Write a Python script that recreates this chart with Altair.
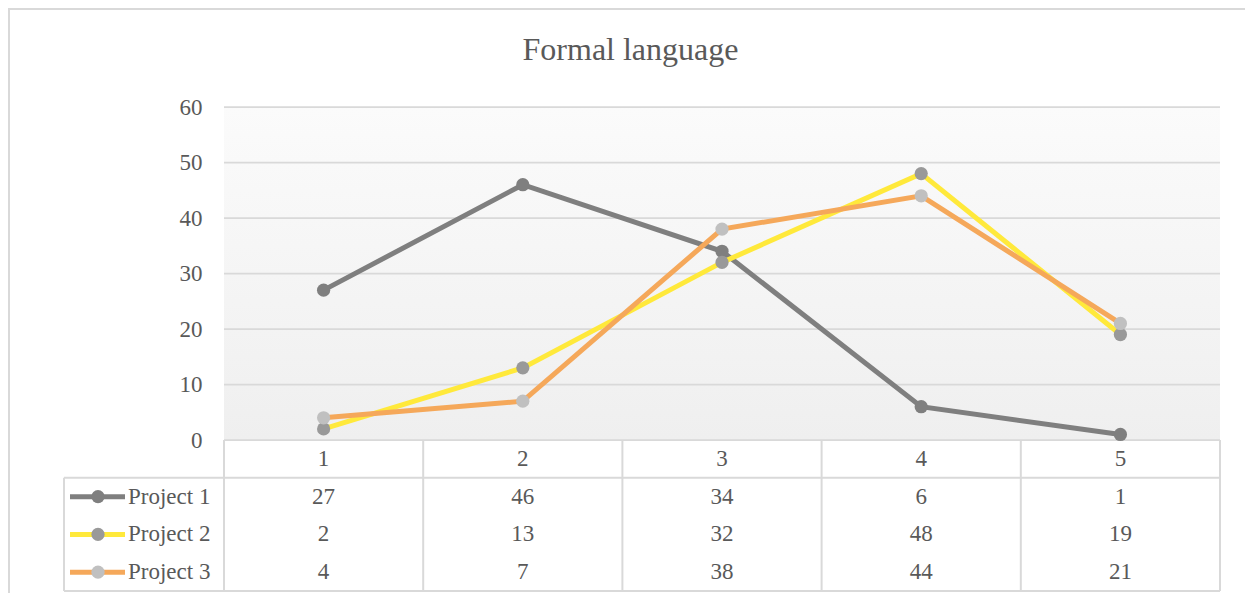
import altair as alt
import pandas as pd

# ---------------- data ----------------
title = "Formal language"
categories = ["1", "2", "3", "4", "5"]
series = ["Project 1", "Project 2", "Project 3"]
project1 = [27, 46, 34, 6, 1]
project2 = [2, 13, 32, 48, 19]
project3 = [4, 7, 38, 44, 21]
y_ticks = [0, 10, 20, 30, 40, 50, 60]

line_colors = ["#7f7f7f", "#ffe93b", "#f5a85a"]
marker_colors = ["#7f7f7f", "#999999", "#c0c0c0"]

# ---------------- layout / style ----------------
W, H = 996, 333
TABLE_H = 151
ROW_BOTTOM = H + TABLE_H
BAND = TABLE_H / 4
FONT = "Liberation Serif"
TEXT = "#595959"
GRID = "#d9d9d9"

values = [project1, project2, project3]
df = pd.DataFrame(
    [{"series": s, "cat": c, "value": v}
     for s, vals in zip(series, values) for c, v in zip(categories, vals)]
)
rows = ["hdr"] + series
table = pd.DataFrame(
    [{"row": "hdr", "cat": c, "label": c} for c in categories]
    + [{"row": s, "cat": c, "label": str(v)}
       for s, vals in zip(series, values) for c, v in zip(categories, vals)]
)
legend_df = pd.DataFrame({"series": series})
ticks_df = pd.DataFrame({"tick": y_ticks})

x_scale = alt.Scale(type="band", domain=categories, paddingInner=0, paddingOuter=0)
y_scale = alt.Scale(domain=[0, 60], nice=False, zero=True)
row_scale = alt.Scale(type="band", domain=rows, range=[H, ROW_BOTTOM],
                      paddingInner=0, paddingOuter=0)
color_scale = alt.Scale(domain=series, range=line_colors)
fill_scale = alt.Scale(domain=series, range=marker_colors)


def X(bp):
    return alt.X("cat:N", scale=x_scale, axis=None, bandPosition=bp)


def ROW(field, bp):
    return alt.Y(f"{field}:N", scale=row_scale, axis=None, bandPosition=bp)


one = alt.Data(values=[{}])

bg = alt.Chart(one).mark_rect(
    fill=alt.LinearGradient(
        gradient="linear",
        stops=[alt.GradientStop(color="#fbfbfb", offset=0),
               alt.GradientStop(color="#efefef", offset=1)],
        x1=0, x2=0, y1=0, y2=1,
    )
).encode(x=alt.value(0), x2=alt.value(W), y=alt.value(0), y2=alt.value(H))

border = alt.Chart(one).mark_rect(
    fill="transparent", stroke=GRID, strokeWidth=2
).encode(x=alt.value(-215), x2=alt.value(W + 60), y=alt.value(-98), y2=alt.value(H + 250))

title_text = alt.Chart(alt.Data(values=[{"t": title}])).mark_text(
    font=FONT, fontSize=32, color=TEXT, align="center", baseline="alphabetic"
).encode(x=alt.value(406.5), y=alt.value(-47), text="t:N")

y_axis = alt.Axis(values=y_ticks, grid=False, domain=False, ticks=False,
                  labelFont=FONT, labelFontSize=23, labelColor=TEXT,
                  labelPadding=22, title=None)

gridlines = alt.Chart(ticks_df).mark_rule(color=GRID, strokeWidth=1.75).encode(
    y=alt.Y("tick:Q", scale=y_scale, axis=y_axis),
    x=alt.value(0), x2=alt.value(W),
)

series_layers = []
for s in series:
    base = alt.Chart(df).transform_filter(alt.datum.series == s)
    line = base.mark_line(strokeWidth=5).encode(
        x=X(0.5),
        y=alt.Y("value:Q", scale=y_scale, axis=None),
        color=alt.Color("series:N", scale=color_scale, legend=None),
    )
    pts = base.mark_circle(size=175, opacity=1).encode(
        x=X(0.5),
        y=alt.Y("value:Q", scale=y_scale, axis=None),
        fill=alt.Fill("series:N", scale=fill_scale, legend=None),
    )
    series_layers += [line, pts]

# ---- data table ----
cells = alt.Chart(table).mark_text(
    font=FONT, fontSize=23, color=TEXT, align="center", baseline="middle"
).encode(x=X(0.5), y=ROW("row", 0.5), text="label:N")

vlines = alt.Chart(pd.DataFrame({"cat": categories})).mark_rule(
    color=GRID, strokeWidth=2
).encode(x=X(0), y=alt.value(H), y2=alt.value(ROW_BOTTOM))

vline_right = alt.Chart(pd.DataFrame({"cat": categories[-1:]})).mark_rule(
    color=GRID, strokeWidth=2
).encode(x=X(1), y=alt.value(H), y2=alt.value(ROW_BOTTOM))

hline_top = alt.Chart(pd.DataFrame({"row": series[:1]})).mark_rule(
    color=GRID, strokeWidth=2
).encode(y=ROW("row", 0), x=alt.value(-160), x2=alt.value(W))

hline_bottom = alt.Chart(pd.DataFrame({"row": series[-1:]})).mark_rule(
    color=GRID, strokeWidth=2
).encode(y=ROW("row", 1), x=alt.value(-160), x2=alt.value(W))

vline_left = alt.Chart(one).mark_rule(color=GRID, strokeWidth=2).encode(
    x=alt.value(-160), y=alt.value(H + BAND), y2=alt.value(ROW_BOTTOM)
)

leg_line = alt.Chart(legend_df).mark_rule(strokeWidth=5).encode(
    x=alt.value(-154), x2=alt.value(-99), y=ROW("series", 0.5),
    color=alt.Color("series:N", scale=color_scale, legend=None),
)
leg_pt = alt.Chart(legend_df).mark_circle(size=175, opacity=1).encode(
    x=alt.value(-126), y=ROW("series", 0.5),
    fill=alt.Fill("series:N", scale=fill_scale, legend=None),
)
leg_text = alt.Chart(legend_df).mark_text(
    font=FONT, fontSize=23, color=TEXT, align="left", baseline="middle"
).encode(x=alt.value(-96), y=ROW("series", 0.5), text="series:N")

chart = alt.layer(
    border, bg, title_text, gridlines, *series_layers,
    vlines, vline_right, hline_top, hline_bottom, vline_left,
    cells, leg_line, leg_pt, leg_text,
).resolve_scale(
    y="independent"
).properties(
    width=W, height=H,
    autosize=alt.AutoSizeParams(type="none"),
    padding={"left": 216, "top": 99, "right": 25, "bottom": 153},
).configure_view(stroke="transparent")

chart.save("out.html", embed_options={"renderer": "svg", "actions": False})
